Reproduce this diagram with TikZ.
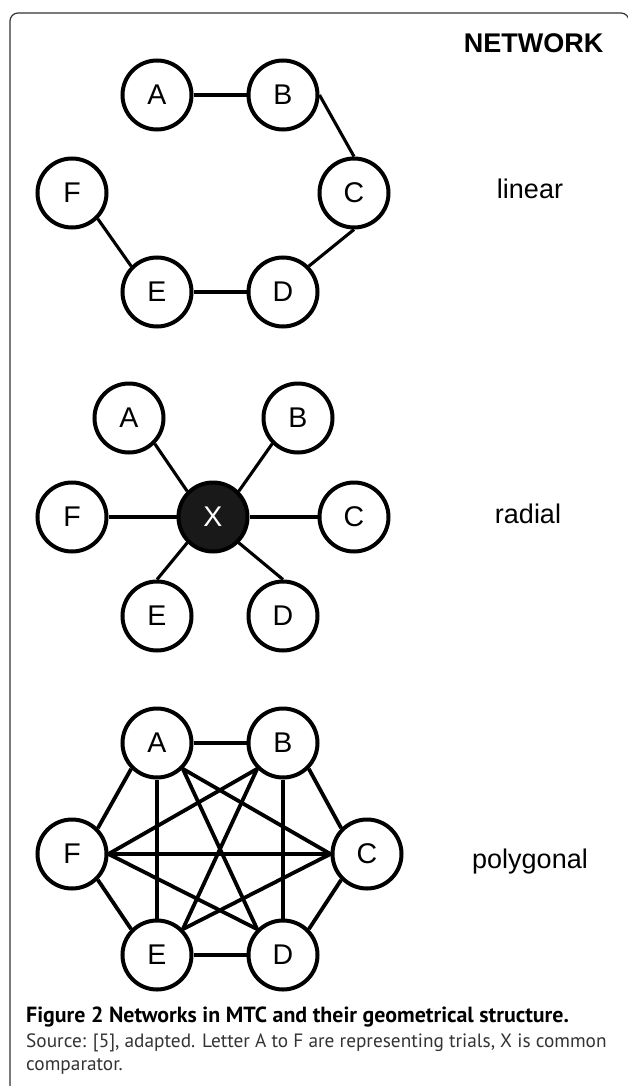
\documentclass[tikz,border=0pt]{standalone}
\usepackage{fontspec}
\setmainfont{Liberation Sans}
\newfontfamily\capfont{PT Sans}

\begin{document}
\begin{tikzpicture}[x=1pt,y=-1pt,
    trial/.style={draw,circle,line width=4pt,minimum size=69pt,inner sep=0pt,
      font=\fontsize{28.5}{30}\selectfont},
    hub/.style={trial,fill=black!90,text=white},
    link/.style={line width=3.1pt},
    mesh/.style={line width=3.8pt},
    tag/.style={font=\fontsize{27}{30}\selectfont,anchor=base}]
    \useasboundingbox (0,0) rectangle (627,1086);
    \draw[line width=1.2pt,black!80,rounded corners=8pt] (10,1100) -- (10,13) -- (629,13) -- (629,1100);
    \node[font=\bfseries\fontsize{27}{30}\selectfont,anchor=base east] (title) at (607,53) {NETWORK};

    % linear
    \node[trial] (la) at (157,95) {A};
    \node[trial] (lb) at (283,95) {B};
    \node[trial] (lc) at (354,193) {C};
    \node[trial] (ld) at (283,292) {D};
    \node[trial] (le) at (157,292) {E};
    \node[trial] (lf) at (72,193) {F};
    \draw[link] (la) -- (lb);
    \draw[link] (lb.east) -- (lc.north);
    \draw[link] (lc.south) -- (ld.north east);
    \draw[link] (ld) -- (le);
    \draw[link] (le.north west) -- (lf.south east);
    \node[tag] (linear) at (530,199) {linear};

    % radial
    \node[hub] (rx) at (213,517) {X};
    \node[trial] (ra) at (129,418) {A};
    \node[trial] (rb) at (298,418) {B};
    \node[trial] (rc) at (354,517) {C};
    \node[trial] (rd) at (283,616) {D};
    \node[trial] (re) at (157,616) {E};
    \node[trial] (rf) at (72,517) {F};
    \draw[link] (ra.south east) -- (rx.north west);
    \draw[link] (rb.south west) -- (rx.north east);
    \draw[link] (rc) -- (rx);
    \draw[link] (rd.north) -- (rx.south east);
    \draw[link] (re.north) -- (rx.south west);
    \draw[link] (rf) -- (rx);
    \node[tag] (radial) at (528,523) {radial};

    % polygonal
    \node[trial] (pa) at (157,743) {A};
    \node[trial] (pb) at (283,743) {B};
    \node[trial] (pc) at (367,854) {C};
    \node[trial] (pd) at (283,955) {D};
    \node[trial] (pe) at (157,955) {E};
    \node[trial] (pf) at (72,854) {F};
    \draw[mesh] (pa) -- (pb);
    \draw[mesh] (pa.south west) -- (pf.north east);
    \draw[mesh] (pa.south) -- (pe.north);
    \draw[mesh] (pa.south east) -- (pd.north west);
    \draw[mesh] (pa.south east) -- (pc.west);
    \draw[mesh] (pb.south west) -- (pf.east);
    \draw[mesh] (pb.south west) -- (pe.north east);
    \draw[mesh] (pb.south) -- (pd.north);
    \draw[mesh] (pb.south east) -- (pc.north west);
    \draw[mesh] (pf.east) -- (pc.west);
    \draw[mesh] (pf.east) -- (pd.north west);
    \draw[mesh] (pf.south east) -- (pe.north west);
    \draw[mesh] (pe.north east) -- (pc.west);
    \draw[mesh] (pe) -- (pd);
    \draw[mesh] (pc.south west) -- (pd.north east);
    \node[tag] (polygonal) at (530,868) {polygonal};

    % caption
    \node[font=\capfont\bfseries\fontsize{21.9}{24}\selectfont,anchor=base west,inner sep=0pt] (cap1) at (26,1022)
      {Figure 2 Networks in MTC and their geometrical structure.};
    \node[font=\capfont\fontsize{19.3}{22}\selectfont,text=black!80,anchor=base west,inner sep=0pt] (cap2) at (26,1047)
      {Source: [5], adapted. Letter A to F are representing trials, X is common};
    \node[font=\capfont\fontsize{19.3}{22}\selectfont,text=black!80,anchor=base west,inner sep=0pt] (cap3) at (26,1070)
      {comparator.};
\end{tikzpicture}
\end{document}
